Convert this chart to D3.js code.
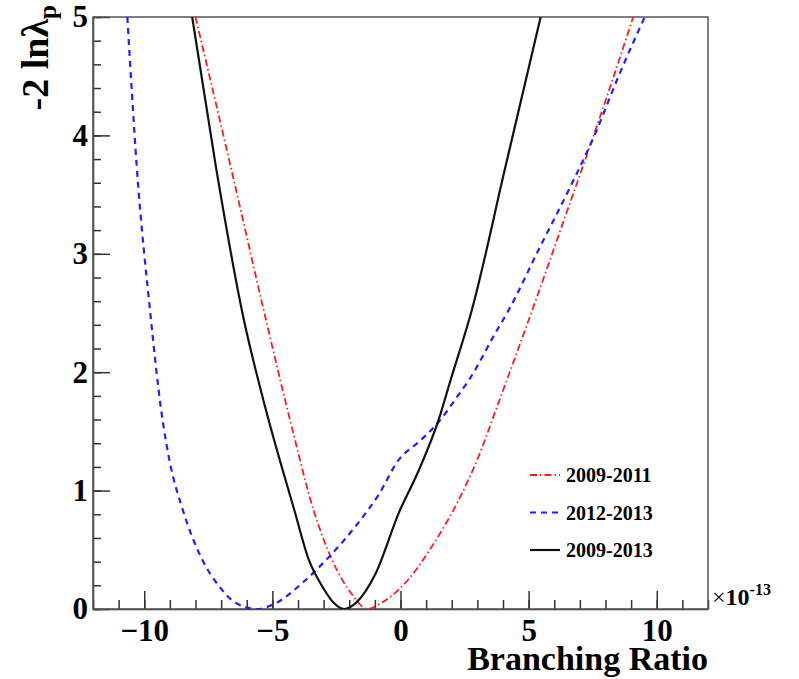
<!DOCTYPE html>
<html>
<head>
<meta charset="utf-8">
<script src="https://cdn.jsdelivr.net/npm/d3@7"></script>
<style>
  body { margin: 0; background: #fff; }
  svg { display: block; }
  .axis path, .axis line { stroke: #333; stroke-width: 1.5; }
  .axis text { font-family: 'Liberation Serif', 'DejaVu Serif', serif; font-weight: bold; font-size: 31px; fill: #000; }
</style>
</head>
<body>
<svg id="chart" width="799" height="679"></svg>
<script>
// Branching ratio (x10^-13) and -2 ln lambda_p
const names = ['2009-2011', '2012-2013', '2009-2013'];

const redX = [-8.0, -6.62, -5.28, -4.2, -3.4, -2.66, -1.88, -1.3, -0.84, 0.19, 1.23, 2.27, 3.05, 3.82, 4.60, 5.35, 6.42, 7.33, 8.23, 9.08];
const redY = [5.0, 3.73, 2.47, 1.5, 0.84, 0.41, 0.12, 0.0, 0.04, 0.22, 0.53, 0.92, 1.29, 1.74, 2.20, 2.65, 3.31, 3.87, 4.44, 5.0];

const blueX = [-10.66, -10.29, -9.75, -9.34, -9.02, -8.50, -7.72, -7.07, -6.42, -5.6, -4.86, -3.83, -2.79, -1.75, -0.84, -0.07, 0.71, 1.49, 2.27, 2.66, 3.70, 4.21, 5.38, 6.68, 7.59, 8.49, 9.53];
const blueY = [5.0, 3.73, 2.47, 1.68, 1.26, 0.84, 0.41, 0.19, 0.05, 0.0, 0.05, 0.22, 0.44, 0.70, 0.97, 1.26, 1.41, 1.58, 1.81, 1.93, 2.33, 2.52, 3.03, 3.59, 4.01, 4.49, 5.0];

const blackX = [-8.13, -7.2, -6.14, -5.25, -4.15, -3.57, -3.05, -2.6, -2.2, -1.75, -0.97, -0.07, 0.71, 1.49, 1.95, 2.79, 4.09, 5.47];
const blackY = [5.0, 3.73, 2.47, 1.68, 0.84, 0.41, 0.19, 0.05, 0.0, 0.05, 0.30, 0.81, 1.17, 1.60, 1.93, 2.53, 3.73, 5.0];

const xMajor = [-10, -5, 0, 5, 10];
const xMinor = d3.range(-12, 13, 1);
const yMajor = [0, 1, 2, 3, 4, 5];
const yMinor = d3.range(0, 5.01, 0.2);

const margin = { top: 17, right: 91, bottom: 70, left: 93 };
const W = 799 - margin.left - margin.right;
const H = 679 - margin.top - margin.bottom;

const svg = d3.select('#chart');
const g = svg.append('g').attr('transform', `translate(${margin.left},${margin.top})`);

const x = d3.scaleLinear().domain([-12, 12]).range([0, W]);
const y = d3.scaleLinear().domain([0, 5]).range([H, 0]);

svg.append('defs').append('clipPath').attr('id', 'plot')
  .append('rect').attr('width', W).attr('height', H);

// minor ticks
g.append('g').attr('class', 'axis')
  .attr('transform', `translate(0,${H})`)
  .call(d3.axisBottom(x).tickValues(xMinor).tickSize(-9).tickFormat(''))
  .select('.domain').remove();
g.append('g').attr('class', 'axis')
  .call(d3.axisLeft(y).tickValues(yMinor).tickSize(-8).tickFormat(''))
  .select('.domain').remove();

// major ticks
g.append('g').attr('class', 'axis')
  .attr('transform', `translate(0,${H})`)
  .call(d3.axisBottom(x).tickValues(xMajor).tickSize(-18).tickPadding(10).tickSizeOuter(0));
g.append('g').attr('class', 'axis')
  .call(d3.axisLeft(y).tickValues(yMajor).tickSize(-17).tickPadding(5).tickSizeOuter(0).tickFormat(d3.format('d')));

// frame
g.append('rect')
  .attr('width', W).attr('height', H)
  .attr('fill', 'none').attr('stroke', '#555').attr('stroke-width', 1.5);

const series = [
  { name: names[0], xs: redX, ys: redY, color: '#ff1a1a', width: 1.8, dash: '7,3,1.5,3' },
  { name: names[1], xs: blueX, ys: blueY, color: '#2020ff', width: 2.2, dash: '6,5' },
  { name: names[2], xs: blackX, ys: blackY, color: '#111', width: 2.2, dash: null }
];

const line = d3.line()
  .x(d => x(d[0]))
  .y(d => y(d[1]))
  .curve(d3.curveMonotoneX);

const curves = g.append('g').attr('clip-path', 'url(#plot)');
series.forEach(s => {
  curves.append('path')
    .datum(s.xs.map((v, i) => [v, s.ys[i]]))
    .attr('fill', 'none')
    .attr('stroke', s.color)
    .attr('stroke-width', s.width)
    .attr('stroke-dasharray', s.dash)
    .attr('d', line);
});

// legend
const legend = svg.append('g').attr('transform', 'translate(530,475)');
series.forEach((s, i) => {
  const row = legend.append('g').attr('transform', `translate(0,${i * 37.5})`);
  row.append('line')
    .attr('x1', 0).attr('x2', 30)
    .attr('stroke', s.color)
    .attr('stroke-width', s.width)
    .attr('stroke-dasharray', s.dash);
  row.append('text')
    .attr('x', 36).attr('y', 7)
    .attr('font-family', 'Liberation Serif, serif')
    .attr('font-weight', 'bold')
    .attr('font-size', 20)
    .text(s.name);
});

// axis titles
svg.append('text')
  .attr('x', margin.left + W).attr('y', 670)
  .attr('text-anchor', 'end')
  .attr('font-family', 'Liberation Serif, serif')
  .attr('font-weight', 'bold')
  .attr('font-size', 34)
  .text('Branching Ratio');

const yt = svg.append('text')
  .attr('transform', 'translate(48,5) rotate(-90)')
  .attr('text-anchor', 'end')
  .attr('font-family', 'Liberation Serif, serif')
  .attr('font-weight', 'bold')
  .attr('font-size', 38);
yt.append('tspan').text('-2 ln\u03bb');
yt.append('tspan').attr('font-size', 25).attr('dy', 8).text('p');

const ex = svg.append('text')
  .attr('x', 712).attr('y', 605)
  .attr('font-family', 'Liberation Serif, serif')
  .attr('font-weight', 'bold')
  .attr('font-size', 24);
ex.append('tspan').attr('font-weight', 'normal').text('\u00d7');
ex.append('tspan').text('10');
ex.append('tspan').attr('font-size', 16).attr('dy', -10).text('-13');
</script>
</body>
</html>
